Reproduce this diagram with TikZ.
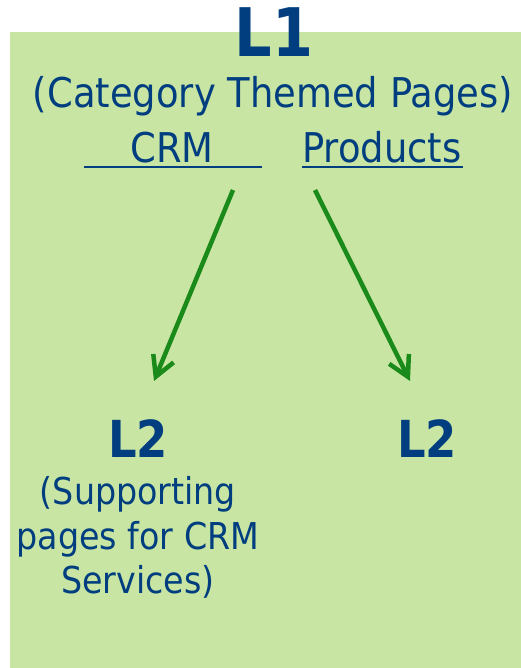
\documentclass[tikz,border=0pt]{standalone}
\usepackage{fontspec}
\setmainfont{DejaVu Sans}
\newfontfamily\bodyfont{DejaVu Sans}[FakeStretch=0.9]
\newfontfamily\headfont{DejaVu Sans}[FakeStretch=0.88]
\usetikzlibrary{arrows.meta}
\definecolor{panel}{RGB}{201,229,163}
\definecolor{ink}{RGB}{0,62,128}
\definecolor{arrowgreen}{RGB}{26,138,26}
\tikzset{
  txt/.style={text=ink, inner sep=0pt, anchor=base},
  big/.style={txt, font=\headfont\bfseries\fontsize{67}{67}\selectfont},
  mid/.style={txt, font=\headfont\bfseries\fontsize{51}{51}\selectfont},
  body/.style={txt, font=\bodyfont\fontsize{41}{48}\selectfont},
  small/.style={txt, font=\bodyfont\fontsize{37}{44}\selectfont},
  uline/.style={draw=ink, line width=2.8pt},
  link/.style={draw=arrowgreen, line width=4.5pt,
    -{Straight Barb[length=20pt,width=22pt]}}
}
\begin{document}
\begin{tikzpicture}[x=1pt,y=-1pt]
  \useasboundingbox (0,0) rectangle (521,668);
  % panel
  \fill[panel] (10,32) rectangle (521,668);

  % top level
  \node[big] (l1) at (274,57) {L1};
  \node[body] (cat) at (273,108) {(Category Themed Pages)};
  \node[body] (crm) at (172,163) {CRM};
  \node[body, anchor=base west] (prod) at (302,163) {Products};
  \draw[uline] (84,167) -- (262,167);
  \draw[uline] (302,167) -- (463,167);

  % second level
  \node[mid] (l2a) at (138,457) {L2};
  \node[mid] (l2b) at (427,457) {L2};
  \node[small] (sa) at (138,504) {(Supporting};
  \node[small] (sb) at (138,549) {pages for CRM};
  \node[small] (sc) at (138,593) {Services)};

  % arrows
  \coordinate (from1) at (233,190);
  \coordinate (to1) at (154,381);
  \coordinate (from2) at (315,190);
  \coordinate (to2) at (410,381);
  \draw[link] (from1) -- (to1);
  \draw[link] (from2) -- (to2);
\end{tikzpicture}
\end{document}
